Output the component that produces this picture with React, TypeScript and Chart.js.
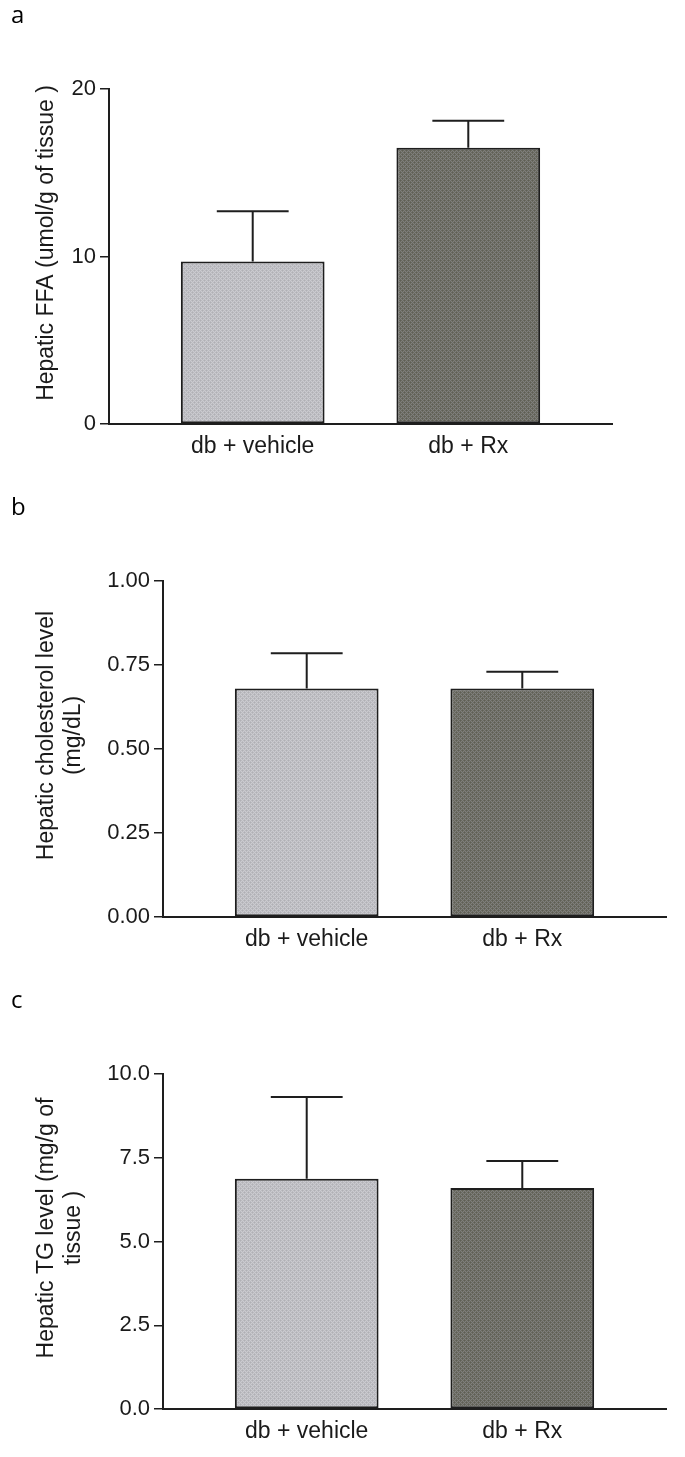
import React, { useEffect, useRef } from 'react';
import { Chart, registerables } from 'chart.js';

Chart.register(...registerables);

// ---------- data ----------
const categories = ['db + vehicle', 'db + Rx'];

const ffaMean = [9.7, 16.5];
const ffaSem = [3.0, 1.6];
const ffaTicks = [0, 10, 20];
const ffaTitle = ['Hepatic FFA (umol/g of tissue )'];

const cholMean = [0.68, 0.68];
const cholSem = [0.105, 0.05];
const cholTicks = [0, 0.25, 0.5, 0.75, 1.0];
const cholTitle = ['Hepatic cholesterol level', '(mg/dL)'];

const tgMean = [6.87, 6.6];
const tgSem = [2.44, 0.8];
const tgTicks = [0, 2.5, 5, 7.5, 10];
const tgTitle = ['Hepatic TG level (mg/g of', 'tissue )'];

// ---------- styles ----------
const FONT = "'Liberation Sans', Arial, sans-serif";
const INK = '#1e1e1e';
const TEXT = '#1a1a1a';
const W = 685;

type PanelDef = {
  letter: string;
  top: number;
  height: number;
  areaTop: number;
  areaBottom: number;
  left: number;
  right: number;
  means: number[];
  sems: number[];
  ticks: number[];
  decimals: number;
  title: string[];
  letterTop: number;
};

const panels: PanelDef[] = [
  { letter: 'a', top: 0, height: 480, areaTop: 89, areaBottom: 424, left: 109, right: 612,
    means: ffaMean, sems: ffaSem, ticks: ffaTicks, decimals: 0, title: ffaTitle, letterTop: 1.5 },
  { letter: 'b', top: 480, height: 480, areaTop: 101, areaBottom: 437, left: 163, right: 666,
    means: cholMean, sems: cholSem, ticks: cholTicks, decimals: 2, title: cholTitle, letterTop: 493.5 },
  { letter: 'c', top: 960, height: 497, areaTop: 114, areaBottom: 449, left: 163, right: 666,
    means: tgMean, sems: tgSem, ticks: tgTicks, decimals: 1, title: tgTitle, letterTop: 986.5 },
];

function makePattern(ctx: CanvasRenderingContext2D, a: string, b: string, c: string) {
  const t = document.createElement('canvas');
  t.width = 4;
  t.height = 4;
  const g = t.getContext('2d')!;
  g.fillStyle = a;
  g.fillRect(0, 0, 4, 4);
  g.fillStyle = b;
  for (let y = 0; y < 4; y++) for (let x = 0; x < 4; x++) if ((x + y) % 2 === 1) g.fillRect(x, y, 1, 1);
  g.fillStyle = c;
  g.fillRect(0, 0, 1, 1);
  g.fillRect(2, 2, 1, 1);
  return ctx.createPattern(t, 'repeat')!;
}

const errorBarPlugin = {
  id: 'errorBars',
  afterDatasetsDraw(chart: any, _args: any, opts: any) {
    const meta = chart.getDatasetMeta(0);
    const ys = chart.scales.y;
    const ctx = chart.ctx;
    ctx.save();
    ctx.strokeStyle = INK;
    ctx.lineWidth = 2;
    meta.data.forEach((el: any, i: number) => {
      const { x, y, width } = el.getProps(['x', 'y', 'width'], true);
      const yTop = ys.getPixelForValue(opts.means[i] + opts.sems[i]);
      const half = width / 4;
      ctx.beginPath();
      ctx.moveTo(x, y);
      ctx.lineTo(x, yTop);
      ctx.moveTo(x - half, yTop);
      ctx.lineTo(x + half, yTop);
      ctx.stroke();
    });
    ctx.restore();
  },
};

const yTitlePlugin = {
  id: 'yTitle',
  afterDraw(chart: any, _args: any, opts: any) {
    const ctx = chart.ctx;
    const area = chart.chartArea;
    const cy = (area.top + area.bottom) / 2 + opts.offset;
    ctx.save();
    ctx.fillStyle = TEXT;
    ctx.font = `${opts.size}px ${FONT}`;
    ctx.textAlign = 'center';
    ctx.textBaseline = 'middle';
    opts.lines.forEach((line: string, i: number) => {
      ctx.save();
      ctx.translate(opts.x + i * opts.spacing, cy);
      ctx.rotate(-Math.PI / 2);
      ctx.fillText(line, 0, 0);
      ctx.restore();
    });
    ctx.restore();
  },
};

function Panel({ p }: { p: PanelDef }) {
  const ref = useRef<HTMLCanvasElement>(null);
  useEffect(() => {
    const canvas = ref.current!;
    const ctx = canvas.getContext('2d')!;
    const light = makePattern(ctx, '#cbcbcf', '#babac0', '#b0b0b4');
    const dark = makePattern(ctx, '#7e7e7e', '#6a6a5e', '#5e5e56');
    const xPos = (i: number) => 2 + 3 * i;
    const chart = new Chart(ctx, {
      type: 'bar',
      data: {
        datasets: [
          {
            data: p.means.map((v, i) => ({ x: xPos(i), y: v })) as any,
            backgroundColor: [light, dark] as any,
            borderColor: INK,
            borderWidth: 2,
            borderSkipped: false,
            barPercentage: 2 / 3,
            categoryPercentage: 1,
          },
        ],
      },
      options: {
        responsive: false,
        animation: false,
        devicePixelRatio: 1,
        layout: { padding: { top: p.areaTop, right: W - p.right, bottom: 0, left: 0 } },
        plugins: {
          legend: { display: false },
          tooltip: { enabled: false },
          title: { display: false },
          errorBars: { means: p.means, sems: p.sems },
          yTitle: { lines: p.title, x: 47, spacing: 27, offset: -13.5, size: 23 },
        } as any,
        scales: {
          x: {
            type: 'linear',
            min: 0,
            max: 7,
            offset: false,
            grid: { display: false, drawTicks: false },
            border: { display: true, color: INK, width: 2 },
            afterBuildTicks: (s: any) => {
              s.ticks = categories.map((_, i) => ({ value: xPos(i) }));
            },
            afterFit: (s: any) => {
              s.height = p.height - p.areaBottom;
            },
            ticks: {
              callback: (_v: any, i: number) => categories[i],
              color: TEXT,
              font: { family: FONT, size: 23 },
              padding: 9,
              maxRotation: 0,
              autoSkip: false,
            },
          },
          y: {
            type: 'linear',
            min: p.ticks[0],
            max: p.ticks[p.ticks.length - 1],
            grid: { drawOnChartArea: false, drawTicks: true, tickLength: 9, color: INK, lineWidth: 1.5 },
            border: { display: true, color: INK, width: 2 },
            afterBuildTicks: (s: any) => {
              s.ticks = p.ticks.map((v) => ({ value: v }));
            },
            afterFit: (s: any) => {
              s.width = p.left;
            },
            ticks: {
              callback: (v: any) => Number(v).toFixed(p.decimals),
              color: TEXT,
              font: { family: FONT, size: 22 },
              padding: 4,
            },
          },
        } as any,
      },
      plugins: [errorBarPlugin, yTitlePlugin],
    });
    return () => chart.destroy();
  }, [p]);
  return (
    <>
      <div
        style={{
          position: 'absolute',
          left: 11,
          top: p.letterTop,
          fontFamily: "'Open Sans', 'Noto Sans', sans-serif",
          fontSize: 24,
          lineHeight: '24px',
          color: '#000',
          zIndex: 2,
        }}
      >
        {p.letter}
      </div>
      <canvas
        ref={ref}
        width={W}
        height={p.height}
        style={{ position: 'absolute', left: 0, top: p.top, width: W, height: p.height, display: 'block' }}
      />
    </>
  );
}

export default function App() {
  return (
    <div style={{ position: 'absolute', left: 0, top: 0, width: W, height: 1457, background: '#fff', overflow: 'hidden' }}>
      {panels.map((p) => (
        <Panel key={p.letter} p={p} />
      ))}
    </div>
  );
}
